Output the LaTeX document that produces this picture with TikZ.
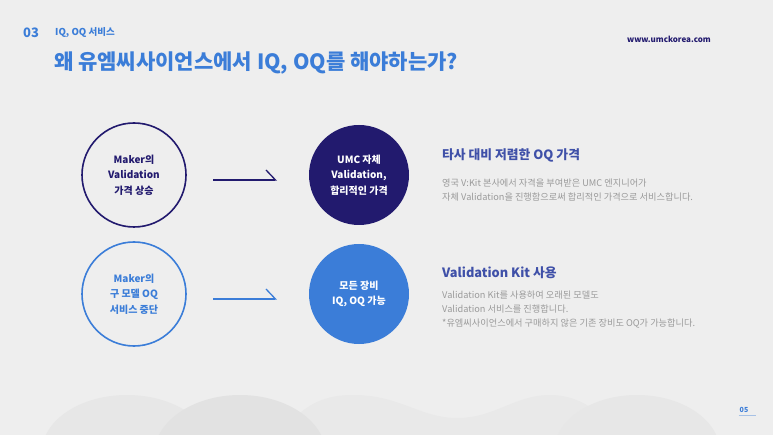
\documentclass[tikz,border=0pt]{standalone}
\usepackage{fontspec}
\setmainfont{Noto Sans CJK KR}
\usepackage{tikz}
\usetikzlibrary{arrows.meta,positioning}
\definecolor{pagebg}{HTML}{EEEEEE}
\definecolor{umcnavy}{HTML}{221A6E}
\definecolor{umcblue}{HTML}{3B7DD8}
\definecolor{headblue}{HTML}{3F50A8}
\definecolor{bodygray}{HTML}{9A9A9A}
\tikzset{
  ringnode/.style={draw, circle, line width=1.6pt, minimum size=104pt, inner sep=0pt, align=center, font=\bfseries\fontsize{10}{15.5}\selectfont},
  discnode/.style={circle, minimum size=100pt, inner sep=0pt, align=center, text=white, font=\bfseries\fontsize{10}{15.5}\selectfont},
  halfarrow/.style={-{Straight Barb[left,length=9.5pt,width=20pt]}, line width=1.3pt},
  headtext/.style={anchor=west, inner sep=0pt, text=headblue, font=\bfseries\fontsize{12.8}{15}\selectfont},
  bodytext/.style={anchor=west, inner sep=0pt, align=left, text=bodygray, font=\fontsize{9.2}{14}\selectfont}
}
\begin{document}
\begin{tikzpicture}[x=1pt,y=-1pt]
\useasboundingbox (0,0) rectangle (773,435);
\fill[pagebg] (0,0) rectangle (773,435);
% hills at the foot of the page
\begin{scope}
\clip (0,0) rectangle (773,435);
\fill[black!3!pagebg] (127,452) ellipse [x radius=85, y radius=57];
\fill[black!2!pagebg] (275,445) .. controls (300,400) and (330,395) .. (353,395)
  .. controls (400,395) and (420,418) .. (457,418)
  .. controls (495,418) and (515,395) .. (550,395)
  .. controls (585,395) and (610,420) .. (628,445) -- cycle;
\fill[black!3!pagebg] (637,452) ellipse [x radius=83, y radius=57];
\fill[black!5!pagebg] (240,455) ellipse [x radius=86, y radius=60];
\end{scope}
% header
\node[anchor=west, inner sep=0pt, text=umcblue, font=\bfseries\fontsize{13}{15}\selectfont] (secnum) at (23,33) {03};
\node[anchor=west, inner sep=0pt, text=umcblue, font=\bfseries\fontsize{9.5}{11}\selectfont] (secname) at (55,33) {IQ, OQ 서비스};
\node[anchor=west, inner sep=0pt, text=umcblue, font=\bfseries\fontsize{21}{23}\selectfont] (title) at (54,63) {왜 유엠씨사이언스에서 IQ, OQ를 해야하는가?};
\node[anchor=east, inner sep=0pt, text=umcnavy, font=\bfseries\fontsize{8}{10}\selectfont] (site) at (711,39) {www.umckorea.com};
% circles
\node[ringnode, draw=umcnavy, text=umcnavy] (makerPrice) at (134,175) {Maker의\\Validation\\가격 상승};
\node[discnode, fill=umcnavy] (umcPrice) at (359,175) {UMC 자체\\Validation,\\합리적인 가격};
\node[ringnode, draw=umcblue, text=umcblue] (makerOld) at (134,294) {Maker의\\구 모델 OQ\\서비스 중단};
\node[discnode, fill=umcblue] (allDevices) at (359,294) {모든 장비\\IQ, OQ 가능};
\coordinate (priceFrom) at (213,180);
\coordinate (priceTo) at (277,180);
\coordinate (kitFrom) at (213,299);
\coordinate (kitTo) at (277,299);
\draw[halfarrow, umcnavy] (priceFrom) -- (priceTo);
\draw[halfarrow, umcblue] (kitFrom) -- (kitTo);
% right column
\node[headtext] (priceTitle) at (442,155) {타사 대비 저렴한 OQ 가격};
\node[bodytext] (priceText) at (442,190.5) {영국 V:Kit 본사에서 자격을 부여받은 UMC 엔지니어가\\자체 Validation을 진행함으로써 합리적인 가격으로 서비스합니다.};
\node[headtext] (kitTitle) at (442,273) {Validation Kit 사용};
\node[bodytext] (kitText) at (442,310) {Validation Kit를 사용하여 오래된 모델도\\Validation 서비스를 진행합니다.\\*유엠씨사이언스에서 구매하지 않은 기존 장비도 OQ가 가능합니다.};
% page number
\node[inner sep=0pt, text=umcblue, font=\bfseries\fontsize{7}{8}\selectfont] (pageno) at (744,410) {05};
\draw[umcblue!40!pagebg, line width=1pt] (pageno.south west) ++(-1,3) -- ++(17,0);
\end{tikzpicture}
\end{document}
